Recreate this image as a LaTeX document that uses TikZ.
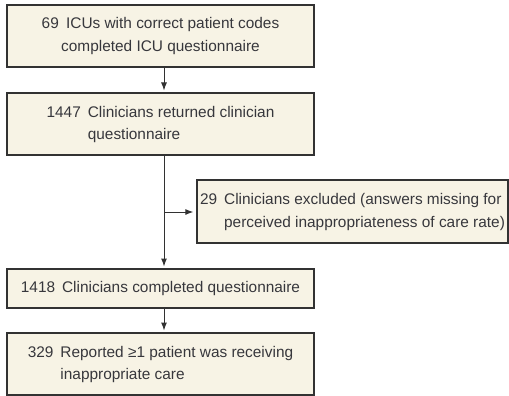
\documentclass[tikz,border=0pt]{standalone}
\usepackage{fontspec}
\setmainfont{Liberation Sans}
\usetikzlibrary{arrows.meta}
\definecolor{boxfill}{RGB}{247,243,229}
\definecolor{boxline}{RGB}{50,50,50}
\definecolor{txt}{RGB}{55,55,60}
\newcommand{\numgap}{\hspace{7pt}}
\begin{document}
\begin{tikzpicture}[x=1pt,y=-1pt,
  flowbox/.style={draw=boxline, fill=boxfill, line width=1.3pt, rectangle,
    minimum width=307pt, minimum height=62pt, inner xsep=2pt, inner ysep=0pt,
    text=txt, font=\fontsize{15.4}{22.5}\selectfont, align=center},
  conn/.style={draw=boxline, line width=1pt, -{Latex[length=8pt,width=6pt]}}]
\useasboundingbox (0,0) rectangle (509,396);
\node[flowbox] (icu) at (160.5,36) {69\hspace{3pt} ICUs with correct patient codes\\completed ICU questionnaire};
\node[flowbox] (ret) at (160.5,124) {\begin{tabular}{@{}l@{\numgap}l@{}}1447 & Clinicians returned clinician\\ & questionnaire\end{tabular}};
\node[flowbox, minimum width=311pt, minimum height=63pt] (exc) at (352.5,211.5) {\begin{tabular}{@{}l@{\numgap}l@{}}29 & Clinicians excluded (answers missing for\\ & perceived inappropriateness of care rate)\end{tabular}};
\node[flowbox, minimum height=39pt] (comp) at (160.5,288.5) {1418\numgap Clinicians completed questionnaire};
\node[flowbox] (rep) at (160.5,364) {\begin{tabular}{@{}l@{\numgap}l@{}}329 & Reported ≥1 patient was receiving\\ & inappropriate care\end{tabular}};
\coordinate (split) at (164,212);
\draw[conn, shorten >=2.5pt] (164,67) -- (164,93);
\draw[conn, shorten >=2.5pt] (164,155) -- (164,269);
\draw[conn, shorten >=3pt] (split) -- (exc.west |- split);
\draw[conn, shorten >=2.5pt] (164,308) -- (164,333);
\end{tikzpicture}
\end{document}
